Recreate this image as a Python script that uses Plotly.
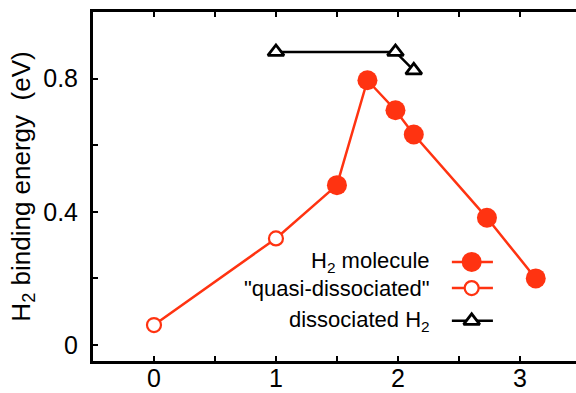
import plotly.graph_objects as go

# ---- data ----
quasi_x = [0.0, 1.0, 1.5]
quasi_y = [0.06, 0.32, 0.48]
mol_x = [1.5, 1.75, 1.98, 2.13, 2.73, 3.13]
mol_y = [0.48, 0.795, 0.705, 0.632, 0.382, 0.20]
diss_x = [1.0, 1.98, 2.13]
diss_y = [0.88, 0.88, 0.825]

x_ticks = [0, 0.5, 1, 1.5, 2, 2.5, 3]
x_ticktext = ["0", " ", "1", " ", "2", " ", "3"]
y_ticks = [0, 0.2, 0.4, 0.6, 0.8]
y_ticktext = ["0", " ", "0.4", " ", "0.8"]

legend_labels = ["H<sub>2</sub> molecule", "\"quasi-dissociated\"", "dissociated H<sub>2</sub>"]

RED = "#ff3311"
FONT = "Liberation Sans, Arial, Helvetica, sans-serif"

fig = go.Figure()

fig.add_trace(go.Scatter(
    x=quasi_x, y=quasi_y, mode="lines+markers",
    line=dict(color=RED, width=2.5),
    marker=dict(symbol="circle", size=14, color="white", line=dict(color=RED, width=2.2)),
    showlegend=False))
fig.add_trace(go.Scatter(
    x=mol_x, y=mol_y, mode="lines+markers",
    line=dict(color=RED, width=2.5),
    marker=dict(symbol="circle", size=20, color=RED, line=dict(width=0)),
    showlegend=False))
fig.add_trace(go.Scatter(
    x=diss_x, y=diss_y, mode="lines+markers",
    line=dict(color="black", width=2.5),
    marker=dict(symbol="triangle-up", size=14, color="white", line=dict(color="black", width=2.8)),
    showlegend=False))

# ---- custom legend (symbol to the right of the text) on an overlay axis ----
leg_rows = [0.284, 0.209, 0.115]
leg_x0, leg_x1, leg_xc = 0.743, 0.828, 0.784
leg_styles = [
    dict(line=dict(color=RED, width=2.5),
         marker=dict(symbol="circle", size=20, color=RED, line=dict(width=0))),
    dict(line=dict(color=RED, width=2.5),
         marker=dict(symbol="circle", size=14, color="white", line=dict(color=RED, width=2.2))),
    dict(line=dict(color="black", width=2.5),
         marker=dict(symbol="triangle-up", size=14, color="white", line=dict(color="black", width=2.8))),
]
for yy, st in zip(leg_rows, leg_styles):
    fig.add_trace(go.Scatter(x=[leg_x0, leg_x1], y=[yy, yy], mode="lines", line=st["line"],
                             xaxis="x3", yaxis="y3", showlegend=False, hoverinfo="skip"))
    fig.add_trace(go.Scatter(x=[leg_xc], y=[yy], mode="markers", marker=st["marker"],
                             xaxis="x3", yaxis="y3", showlegend=False, hoverinfo="skip"))

for yy, lab in zip(leg_rows, legend_labels):
    fig.add_annotation(x=0.701, y=yy, xref="paper", yref="paper", text=lab,
                       showarrow=False, xanchor="right", yanchor="middle",
                       font=dict(family=FONT, size=22, color="black"))

fig.update_layout(
    width=576, height=393,
    margin=dict(l=93, r=0, t=12, b=32, autoexpand=False),
    paper_bgcolor="white", plot_bgcolor="white",
    font=dict(family=FONT, size=22, color="black"),
    xaxis=dict(range=[-0.5, 3.46], tickvals=x_ticks, ticktext=x_ticktext,
               ticks="inside", ticklen=5, tickwidth=2, tickcolor="black",
               showline=True, linewidth=3, linecolor="black", mirror="ticks",
               showgrid=False, zeroline=False, ticklabelstandoff=-7,
               tickfont=dict(family=FONT, size=25), automargin=False),
    yaxis=dict(range=[-0.048, 1.0], tickvals=y_ticks, ticktext=y_ticktext,
               ticks="inside", ticklen=5, tickwidth=2, tickcolor="black",
               showline=True, linewidth=3, linecolor="black", mirror=False,
               showgrid=False, zeroline=False, ticklabelstandoff=7,
               tickfont=dict(family=FONT, size=25), automargin=False,
               title=dict(text="H<sub>2</sub> binding energy&nbsp;&nbsp;(eV)",
                          font=dict(family=FONT, size=26), standoff=6)),
    yaxis2=dict(range=[-0.048, 1.0], overlaying="y", side="right", anchor="x",
                tickvals=y_ticks, showticklabels=False,
                ticks="inside", ticklen=5, tickwidth=2, tickcolor="black",
                showline=False, showgrid=False, zeroline=False),
    xaxis3=dict(range=[0, 1], overlaying="x", anchor="y3", visible=False),
    yaxis3=dict(range=[0, 1], overlaying="y", anchor="x3", visible=False),
)

fig.write_html("out.html")
